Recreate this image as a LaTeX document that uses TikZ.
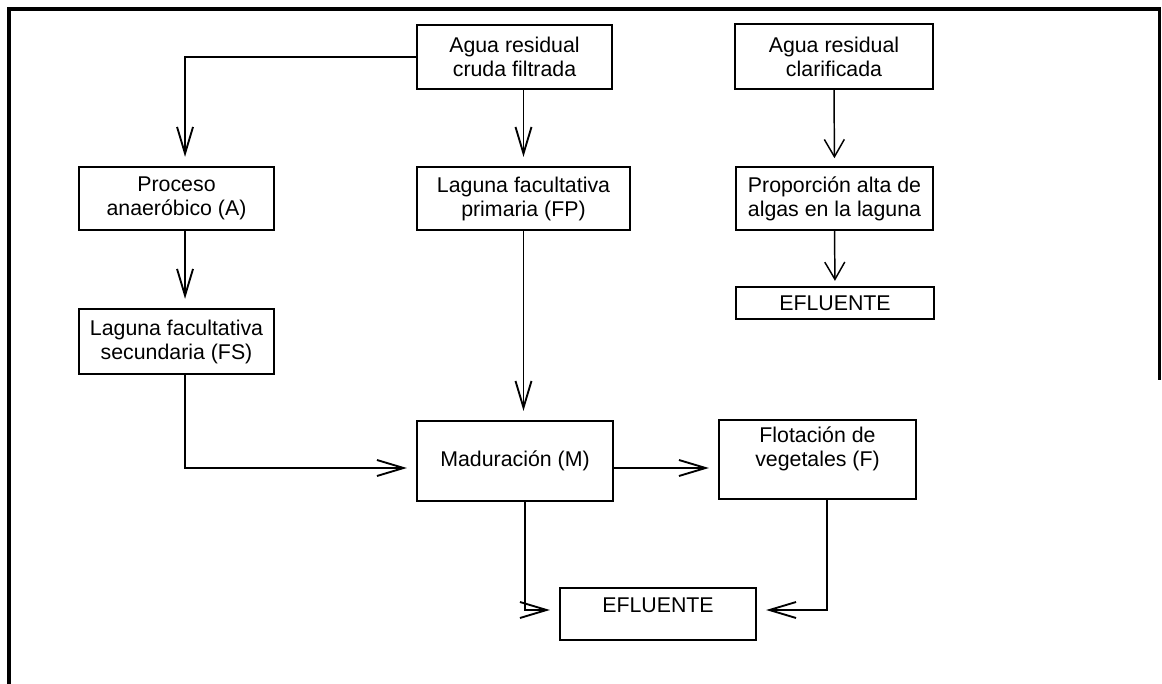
\documentclass[tikz,border=0pt]{standalone}
\usepackage{fontspec}
\setmainfont{Liberation Sans}
\usetikzlibrary{arrows.meta}
\newcommand\liftup[2]{\raisebox{#1}[\height][\depth]{#2}}
\begin{document}
\begin{tikzpicture}[x=0.75pt,y=-0.75pt,
  box/.style={draw,line width=1.2pt,inner sep=0pt,align=center,font=\fontsize{16}{18}\selectfont},
  sz/.style 2 args={minimum width=#1*0.75pt,minimum height=#2*0.75pt},
  arr/.style={line width=1.4pt,-{Straight Barb[length=20pt,width=12pt]},shorten >=7pt},
  arrs/.style={line width=1.1pt,-{Straight Barb[length=13pt,width=15pt]},shorten >=6pt},
  frame/.style={line width=2.6pt}]
\useasboundingbox (0,0) rectangle (1162,684);
\draw[frame] (9,684) -- (9,9) -- (1159.5,9) -- (1159.5,380);

\node[box,sz={195}{64}] (cruda) at (514.5,57) {Agua residual\\cruda filtrada};
\node[box,sz={198}{65}] (clar) at (834,56.5) {Agua residual\\clarificada};
\node[box,sz={197}{63}] (prop) at (834.5,198.5) {Proporción alta de\\algas en la laguna};
\node[box,sz={198}{32}] (eflA) at (835,303) {EFLUENTE};
\node[box,sz={195}{63}] (A) at (176.5,198.5) {Proceso\\anaeróbico (A)};
\node[box,sz={213}{63}] (FP) at (523.5,198.5) {Laguna facultativa\\primaria (FP)};
\node[box,sz={195}{65}] (FS) at (176.5,341.5) {Laguna facultativa\\secundaria (FS)};
\node[box,sz={196}{80}] (M) at (515,461) {Maduración (M)};
\node[box,sz={197}{79}] (F) at (817.5,459.5) {\liftup{7.5pt}{\begin{tabular}{@{}c@{}}Flotación de\\vegetales (F)\end{tabular}}};
\node[box,sz={196}{52}] (eflB) at (658,614) {\liftup{6.75pt}{EFLUENTE}};

\draw[arr] (cruda.west) -| ([xshift=6.4pt]A.north);
\draw[arr] (cruda.south -| FP.north) -- (FP.north);
\draw[arrs] (clar.south) -- (prop.north);
\draw[arrs,shorten >=4pt] (prop.south) -- (eflA.north);
\draw[arr] ([xshift=6.4pt]A.south) -- ([xshift=6.4pt]FS.north);
\draw[arr] ([xshift=6.4pt]FS.south) |- ([yshift=-5.25pt]M.west);
\draw[arr] (FP.south) -- (FP.south |- M.north);
\draw[arr] ([yshift=-5.25pt]M.east) -- ([yshift=-5.25pt]M.east -| F.west);
\draw[arr] ([xshift=7.5pt]M.south) |- ([yshift=3pt]eflB.west);
\draw[arr] ([xshift=7.1pt]F.south) |- ([yshift=3pt]eflB.east);
\end{tikzpicture}
\end{document}
